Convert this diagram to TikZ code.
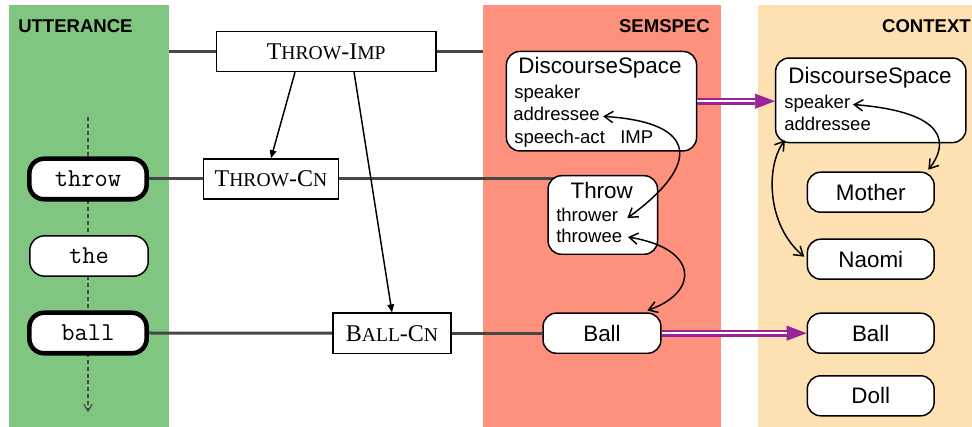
\documentclass[tikz,border=0pt]{standalone}
\usepackage{fontspec}
\setmainfont{Liberation Sans}
\newfontfamily\cxnserif{Liberation Serif}
\usetikzlibrary{arrows.meta}

\definecolor{uttgreen}{HTML}{80C680}
\definecolor{semsalmon}{HTML}{FE917D}
\definecolor{ctxpeach}{HTML}{FDE1B3}
\definecolor{linkgray}{HTML}{474747}
\definecolor{mapviolet}{HTML}{9A2396}

\pgfdeclarelayer{panels}
\pgfdeclarelayer{wires}
\pgfsetlayers{panels,wires,main}

% font sizes
\newcommand\fsHead{\fontsize{13.9}{16}\selectfont\bfseries}
\newcommand\fsFrame{\fontsize{16.8}{20}\selectfont}
\newcommand\fsSlot{\fontsize{13.9}{16}\selectfont}
\newcommand\fsWord{\ttfamily\fontsize{19.3}{22}\selectfont}
% hand-made small caps for construction names
\newcommand\capL[1]{{\fontsize{18}{20}\selectfont #1}}
\newcommand\capS[1]{{\fontsize{14.7}{20}\selectfont #1}}

\begin{document}
\begin{tikzpicture}[x=0.75pt,y=-0.75pt,
  dims/.style 2 args={minimum width=#1, minimum height=#2},
  cxn/.style={draw, fill=white, line width=1.1pt, inner sep=0pt, font=\cxnserif},
  word/.style={draw, fill=white, rounded corners=11pt, line width=1.1pt, inner sep=0pt, dims={88.8pt}{30.2pt}, font=\fsWord},
  headword/.style={word, line width=3.4pt, dims={88pt}{30.4pt}},
  frame/.style={draw, fill=white, rounded corners=10pt, line width=1.1pt, inner sep=0pt},
  entity/.style={frame, dims={95.1pt}{30pt}, font=\fsFrame},
  frametitle/.style={anchor=base, inner sep=0pt, font=\fsFrame},
  slot/.style={anchor=base west, inner sep=0pt, font=\fsSlot},
  heading/.style={inner sep=0pt, font=\fsHead},
  link/.style={linkgray, line width=2.25pt},
  flow/.style={linkgray, dash pattern=on 3pt off 2.2pt, line width=0.9pt, -{Straight Barb[length=5pt,width=6.5pt]}},
  evoke/.style={line width=1.1pt, -{Triangle[length=6pt,width=5pt]}},
  bind/.style={line width=1.1pt, {Straight Barb[length=6.5pt,width=8.5pt]}-{Straight Barb[length=6.5pt,width=8.5pt]}},
  maptip/.style={mapviolet, line width=0.6pt, -{Triangle[length=15pt,width=11.25pt]}},
  mapshaft/.style={draw=mapviolet, double=white, double distance=1.7pt, line width=1.65pt, shorten >=14.6pt}
]
\useasboundingbox (0,0) rectangle (972,427);

% the three columns
\begin{pgfonlayer}{panels}
  \fill[white] (0,0) rectangle (972,427);
  \fill[uttgreen] (9,5) rectangle (169,427);
  \fill[semsalmon] (483,5) rectangle (721,427);
  \fill[ctxpeach] (758,5) rectangle (972,427);
\end{pgfonlayer}

\node[heading, anchor=base west] (uttlabel) at (18,33) {UTTERANCE};
\node[heading, anchor=base east] (semlabel) at (710,32.3) {SEMSPEC};
\node[heading, anchor=base east] (ctxlabel) at (971,32.3) {CONTEXT};

% utterance words
\node[headword] (wthrow) at (88,179) {throw};
\node[word] (wthe) at (89,256) {the};
\node[headword] (wball) at (88,333) {ball};

% constructions
\node[cxn, dims={164.6pt}{30pt}] (cximp) at (326.2,51.5) {\capL{T}\capS{HROW}\capL{-I}\capS{MP}};
\node[cxn, dims={101.3pt}{30pt}] (cxthrow) at (271,179) {\capL{T}\capS{HROW}\capL{-C}\capS{N}};
\node[cxn, dims={88.4pt}{30.1pt}] (cxball) at (392,333.2) {\capL{B}\capS{ALL}\capL{-C}\capS{N}};

% semspec
\node[frame, dims={142.6pt}{74.6pt}] (semds) at (601.5,101.2) {};
\node[frametitle] (semdsname) at (600,74) {DiscourseSpace};
\node[slot] (semspk) at (514,99) {speaker};
\node[slot] (semaddr) at (513,121) {addressee};
\node[slot] (semact) at (514,143.3) {speech-act};
\node[slot] (semimp) at (620,143.3) {IMP};

\node[frame, dims={82.1pt}{58.9pt}] (semthrow) at (602.8,215) {};
\node[frametitle] (semthrowname) at (601.7,198.5) {Throw};
\node[slot] (thrower) at (556,221.7) {thrower};
\node[slot] (throwee) at (556,242.7) {throwee};

\node[entity, dims={88.4pt}{30.1pt}] (semball) at (602,333.2) {Ball};

% context
\node[frame, dims={142.7pt}{63.4pt}] (ctxds) at (870.8,100.3) {};
\node[frametitle] (ctxdsname) at (870,83.3) {DiscourseSpace};
\node[slot] (ctxspk) at (784,108.3) {speaker};
\node[slot] (ctxaddr) at (784,131) {addressee};
\node[entity] (mother) at (870.8,192.2) {Mother};
\node[entity] (naomi) at (870.8,259.2) {Naomi};
\node[entity] (ctxball) at (870.7,333.2) {Ball};
\node[entity] (doll) at (870.7,395.8) {Doll};

% links running behind the boxes
\coordinate (uttedge) at (169,51.5);
\coordinate (semedge) at (483,51.5);
\coordinate (flowtop) at (88,117);
\coordinate (flowend) at (88,412);
\begin{pgfonlayer}{wires}
  \draw[link] (uttedge) -- (cximp.west);
  \draw[link] (cximp.east) -- (semedge);
  \draw[link] (wthrow.east) -- (cxthrow.west);
  \draw[link] (cxthrow.east) -- (cxthrow.east -| semthrow.center);
  \draw[link] (wball.east) -- (cxball.west);
  \draw[link] (cxball.east) -- (semball.west);
  \draw[flow] (flowtop) -- (flowend);
\end{pgfonlayer}

% constituent arrows
\draw[evoke] ([xshift=-23.4pt]cximp.south) -- (cxthrow.north);
\draw[evoke] ([xshift=20.9pt]cximp.south) -- (cxball.north);

% role bindings
\draw[bind] ([shift={(3,2)}]semaddr.east) .. controls +(97,6) and +(73,-53) .. ([shift={(9,3)}]thrower.east);
\draw[bind] ([shift={(5.5,1)}]throwee.east) .. controls +(70.7,11.3) and +(52.7,-18.3) .. ([shift={(45.3,-2)}]semball.north);
\draw[bind] ([shift={(2.5,1)}]ctxspk.east) .. controls +(96.7,7.7) and +(19.7,-25) .. ([shift={(57.5,-1.7)}]mother.north);
\draw[bind] ([shift={(10,-3)}]ctxds.south west) .. controls +(-19,24.7) and +(-38.3,-31.7) .. ([shift={(-2.4,-2.5)}]naomi.west);

% resolution into context
\draw[maptip] (semds.east) -- (semds.east -| ctxds.west);
\draw[mapshaft] (semds.east) -- (semds.east -| ctxds.west);
\draw[maptip] (semball.east) -- (ctxball.west);
\draw[mapshaft] (semball.east) -- (ctxball.west);
\end{tikzpicture}
\end{document}
